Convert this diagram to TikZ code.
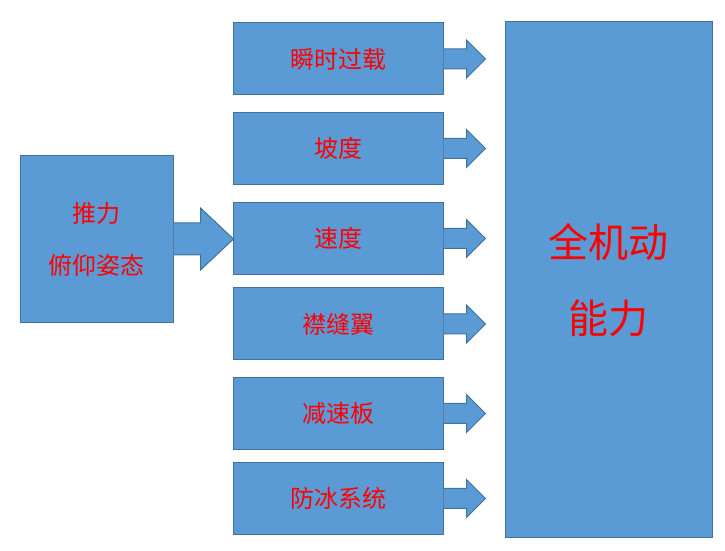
\documentclass[tikz,border=0pt]{standalone}
\usepackage{fontspec}
\newfontfamily\cjk{Noto Sans CJK SC}
\usetikzlibrary{positioning,calc}
\definecolor{boxblue}{HTML}{5B9BD5}
\definecolor{edgeblue}{HTML}{41719C}
\tikzset{
  bluebox/.style={draw=edgeblue,fill=boxblue,line width=1pt,inner sep=0pt,font=\cjk\fontsize{24}{28}\selectfont,text=red},
  blockarrow/.style={draw=edgeblue,fill=boxblue,line width=1pt,line join=miter}
}
% start point, length, shaft half height, head half height, head length
\newcommand\fatarrow[5]{%
  \draw[blockarrow] ($#1+(0,#3)$) -- ++(#2-#5,0) -- ($#1+(#2-#5,#4)$) -- ($#1+(#2,0)$)
    -- ($#1+(#2-#5,-#4)$) -- ($#1+(#2-#5,-#3)$) -- ($#1+(0,-#3)$);
}
\begin{document}
\begin{tikzpicture}[x=1pt,y=1pt]
  \useasboundingbox (0,0) rectangle (725,551);

  \node[bluebox,minimum width=153,minimum height=167,align=center,font=\cjk\fontsize{24}{52}\selectfont] (src) at (96.5,312) {推力\\俯仰姿态};
  \node[bluebox,minimum width=207,minimum height=516,align=center,font=\cjk\fontsize{40}{76}\selectfont] (all) at (608.5,271) {全机动\\能力};

  \foreach \n/\t/\y in {a/瞬时过载/492, b/坡度/402.5, c/速度/312.5, d/襟缝翼/227, e/减速板/137.5, f/防冰系统/52.5}{
    \node[bluebox,minimum width=210,minimum height=72] (\n) at (338,\y) {\t};
    \fatarrow{(\n.east)}{42}{10}{19}{19}
  }

  \fatarrow{(src.east)}{60}{16}{31}{33}
\end{tikzpicture}
\end{document}
